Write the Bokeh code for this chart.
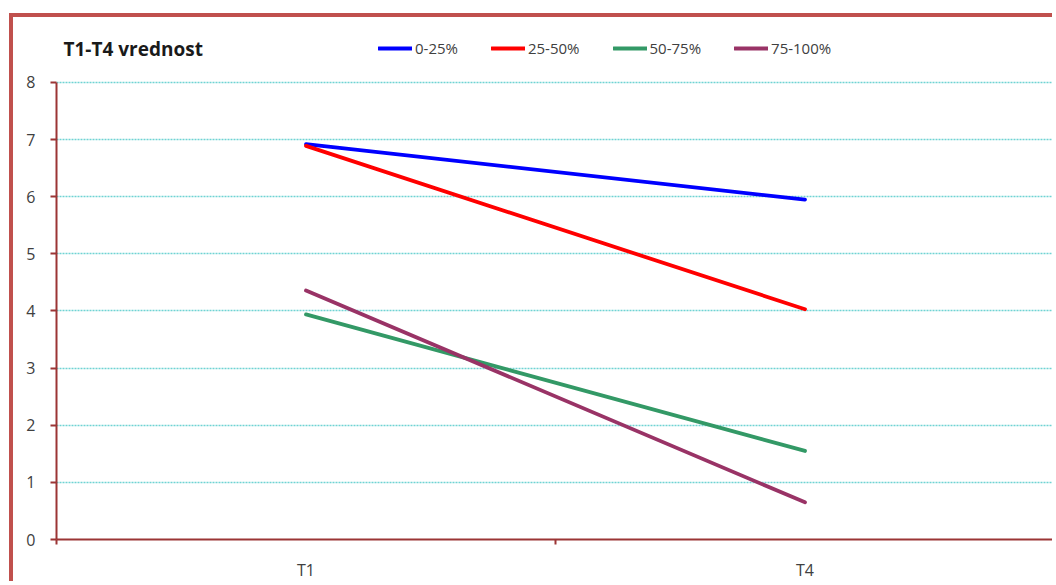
from bokeh.plotting import figure
from bokeh.models import FixedTicker, Legend, LegendItem, Label, Range1d
from bokeh.embed import file_html
from bokeh.resources import INLINE

# Measurement periods and quartile groups
periods = ["T1", "T4"]
groups = ["0-25%", "25-50%", "50-75%", "75-100%"]

# Mean value per group at each period
values_0_25 = [6.92, 5.95]
values_25_50 = [6.89, 4.03]
values_50_75 = [3.94, 1.55]
values_75_100 = [4.36, 0.65]

y_ticks = [0, 1, 2, 3, 4, 5, 6, 7, 8]
title_text = "T1-T4 vrednost"

series = [values_0_25, values_25_50, values_50_75, values_75_100]
colors = ["#0000ff", "#ff0000", "#339966", "#993366"]

FONT = "Open Sans"
AXIS_COLOR = "#9b3535"
LABEL_COLOR = "#404040"
FRAME_COLOR = "#c0504d"

# each period sits in the middle of its own unit-wide slot
slots = [i + 0.5 for i in range(len(periods))]

# the y range runs a little past the top tick so the header row
# (title and legend) lives inside the plot frame
p = figure(
    width=1043, height=568,
    x_range=Range1d(0, len(periods)), y_range=Range1d(y_ticks[0], 9.05),
    output_backend="svg", toolbar_location=None,
    min_border_left=43, min_border_right=2, min_border_top=5, min_border_bottom=46,
    background_fill_color="white", border_fill_color="white",
    margin=(13, 0, 0, 9),
    styles={"border-left": f"4px solid {FRAME_COLOR}", "border-top": f"4px solid {FRAME_COLOR}"},
)
p.outline_line_color = None
p.title.visible = False

# x axis: labels in slot centres, small ticks on slot boundaries
xa = p.xaxis[0]
xa.ticker = FixedTicker(ticks=slots, minor_ticks=list(range(len(periods) + 1)))
xa.major_label_overrides = {s: name for s, name in zip(slots, periods)}
xa.major_tick_line_color = None
xa.major_tick_out = 0
xa.major_tick_in = 0
xa.minor_tick_line_color = AXIS_COLOR
xa.minor_tick_line_width = 2
xa.minor_tick_out = 5
xa.minor_tick_in = 0
xa.axis_line_color = AXIS_COLOR
xa.axis_line_width = 2
xa.major_label_standoff = 14
xa.major_label_text_font = FONT
xa.major_label_text_font_size = "16px"
xa.major_label_text_color = LABEL_COLOR

ya = p.yaxis[0]
ya.ticker = FixedTicker(ticks=y_ticks, minor_ticks=[])
ya.bounds = (y_ticks[0], y_ticks[-1])
ya.major_tick_out = 6
ya.major_tick_in = 0
ya.major_tick_line_color = AXIS_COLOR
ya.major_tick_line_width = 2
ya.axis_line_color = AXIS_COLOR
ya.axis_line_width = 2
ya.major_label_standoff = 15
ya.major_label_text_font = FONT
ya.major_label_text_font_size = "16px"
ya.major_label_text_color = LABEL_COLOR

p.xgrid.grid_line_color = None
p.ygrid.ticker = FixedTicker(ticks=y_ticks, minor_ticks=[])
p.ygrid.grid_line_color = "#6fd3d3"
p.ygrid.grid_line_dash = "2 1"
p.ygrid.grid_line_width = 1.5

items = []
for name, vals, col in zip(groups, series, colors):
    r = p.line(slots, vals, line_color=col, line_width=3.8, line_cap="round")
    items.append(LegendItem(label=name, renderers=[r]))

# header row: bold title on the left, horizontal legend to its right
p.add_layout(Label(
    x=7, y=491, x_units="screen", y_units="screen", text=title_text,
    text_font=FONT, text_font_size="19px", text_font_style="bold",
    text_color="#1a1a1a", text_baseline="middle",
))

legend = Legend(
    items=items, orientation="horizontal", location=(322, 481),
    glyph_width=34, glyph_height=20, label_standoff=3, spacing=33,
    padding=0, margin=0, border_line_color=None, background_fill_alpha=0,
    label_text_font=FONT, label_text_font_size="15px", label_text_color=LABEL_COLOR,
)
p.add_layout(legend, "center")

open("out.html", "w").write(file_html(p, INLINE))
